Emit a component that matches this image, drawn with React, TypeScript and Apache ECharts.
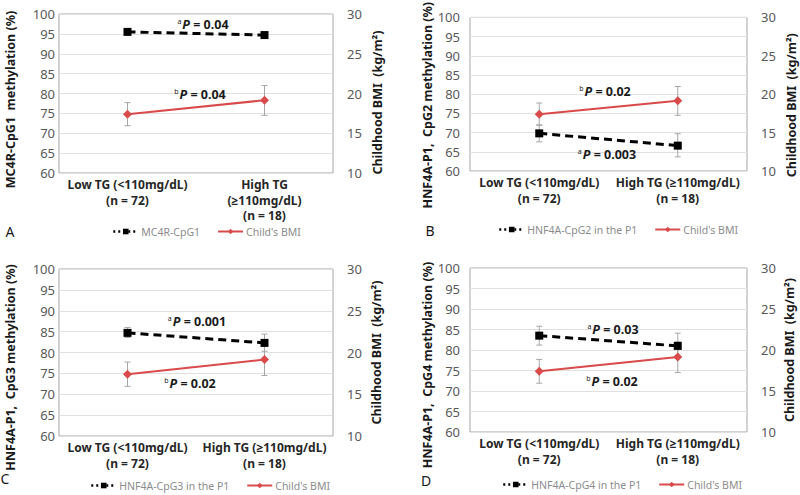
import React, { useEffect, useRef } from "react";
import * as echarts from "echarts";

const catsA = ["Low TG (<110mg/dL)\n(n = 72)", "High TG\n(≥110mg/dL)\n(n = 18)"];
const catsBCD = ["Low TG (<110mg/dL)\n(n = 72)", "High TG (≥110mg/dL)\n(n = 18)"];

const methNames = ["MC4R-CpG1", "HNF4A-CpG2 in the P1", "HNF4A-CpG3 in the P1", "HNF4A-CpG4 in the P1"];
const leftAxisNames = [
  "MC4R-CpG1  methylation (%)",
  "HNF4A-P1,  CpG2 methylation (%)",
  "HNF4A-P1,  CpG3 methylation (%)",
  "HNF4A-P1,  CpG4 methylation (%)",
];
const rightAxisName = "Childhood BMI  (kg/m²)";
const bmiName = "Child's BMI";
const panelLetters = ["A", "B", "C", "D"];

// methylation means, lower and upper error limits
const methMeanA = [95.5, 94.7];
const methLowA = [95.1, 94.3];
const methHighA = [95.9, 95.1];
const methMeanB = [69.8, 66.6];
const methLowB = [67.6, 63.7];
const methHighB = [72.0, 69.7];
const methMeanC = [84.7, 82.3];
const methLowC = [83.6, 80.3];
const methHighC = [86.0, 84.4];
const methMeanD = [83.5, 81.0];
const methLowD = [81.2, 78.2];
const methHighD = [85.8, 84.1];

// child's BMI means and error limits
const bmiMean = [17.4, 19.15];
const bmiLow = [15.95, 17.25];
const bmiHigh = [18.85, 21.0];

// P value annotations
const pMeth = ["0.04", "0.003", "0.001", "0.03"];
const pBmi = ["0.04", "0.02", "0.02", "0.02"];

const leftTicks = { min: 60, max: 100, interval: 5 };
const rightTicks = { min: 10, max: 30, interval: 5 };

export default function App() {
  const ref = useRef<HTMLDivElement>(null);
  useEffect(() => {
    if (!ref.current) return;
    const chart = echarts.init(ref.current, undefined, { renderer: "svg" });
    const font = "'Noto Sans', 'Open Sans', sans-serif";
    const red = "#d94a4a";
    const grids = [
      { left: 59, top: 14, width: 274, height: 159 },
      { left: 470, top: 14, width: 277, height: 157 },
      { left: 59, top: 269, width: 274, height: 167 },
      { left: 470, top: 268, width: 277, height: 164 },
    ];
    const methMeans = [methMeanA, methMeanB, methMeanC, methMeanD];
    const methLows = [methLowA, methLowB, methLowC, methLowD];
    const methHighs = [methHighA, methHighB, methHighC, methHighD];
    const leftLabelMargin = [4, 10, 4, 10];
    const leftNameGap = [42, 32, 42, 34];
    const leftNamePad = [12, 22, 30, 30];
    const rightNameGap = [38, 38, 37, 36];
    const rightNamePad = [18, 22, 0, 0];

    const xAxis: any[] = [];
    const yAxis: any[] = [];
    const series: any[] = [];
    const legend: any[] = [];
    const graphic: any[] = [];

    const errRender = (params: any, api: any) => {
      const x = api.value(0);
      const lo = api.coord([x, api.value(1)]);
      const hi = api.coord([x, api.value(2)]);
      const w = 3;
      const st = { stroke: "#a6a6a6", lineWidth: 1 };
      return {
        type: "group",
        children: [
          { type: "line", shape: { x1: lo[0], y1: lo[1], x2: hi[0], y2: hi[1] }, style: st },
          { type: "line", shape: { x1: lo[0] - w, y1: lo[1], x2: lo[0] + w, y2: lo[1] }, style: st },
          { type: "line", shape: { x1: hi[0] - w, y1: hi[1], x2: hi[0] + w, y2: hi[1] }, style: st },
        ],
      };
    };

    grids.forEach((g, i) => {
      const cats = i === 0 ? catsA : catsBCD;
      xAxis.push({
        type: "category",
        gridIndex: i,
        data: cats,
        boundaryGap: true,
        axisLine: { show: false },
        axisTick: { show: false },
        axisLabel: {
          interval: 0,
          color: "#262626",
          fontWeight: "bold",
          fontSize: 12,
          lineHeight: 15.5,
          fontFamily: font,
          margin: 4,
        },
        splitLine: { show: false },
      });
      yAxis.push({
        type: "value",
        gridIndex: i,
        position: "left",
        ...leftTicks,
        name: leftAxisNames[i],
        nameLocation: "middle",
        nameGap: leftNameGap[i],
        nameTextStyle: {
          color: "#1a1a1a",
          fontWeight: "bold",
          fontSize: 12.5,
          fontFamily: font,
          padding: [0, leftNamePad[i], 0, 0],
        },
        axisLine: { show: false },
        axisTick: { show: false },
        axisLabel: { color: "#595959", fontSize: 13, fontFamily: font, margin: leftLabelMargin[i] },
        splitLine: { show: true, lineStyle: { color: "#e0e0e0", width: 1 } },
      });
      yAxis.push({
        type: "value",
        gridIndex: i,
        position: "right",
        ...rightTicks,
        name: rightAxisName,
        nameLocation: "middle",
        nameGap: rightNameGap[i],
        nameTextStyle: {
          color: "#1a1a1a",
          fontWeight: "bold",
          fontSize: 12.5,
          fontFamily: font,
          padding: [0, rightNamePad[i], 0, 0],
        },
        axisLine: { show: false },
        axisTick: { show: false },
        axisLabel: { color: "#595959", fontSize: 13, fontFamily: font, margin: 14 },
        splitLine: { show: false },
      });

      series.push({
        type: "custom",
        name: methNames[i] + " error",
        xAxisIndex: i,
        yAxisIndex: 2 * i,
        renderItem: errRender,
        encode: { x: 0, y: [1, 2] },
        data: [0, 1].map((k) => [k, methLows[i][k], methHighs[i][k]]),
        z: 1,
        silent: true,
      });
      series.push({
        type: "custom",
        name: bmiName + " error " + i,
        xAxisIndex: i,
        yAxisIndex: 2 * i + 1,
        renderItem: errRender,
        encode: { x: 0, y: [1, 2] },
        data: [0, 1].map((k) => [k, bmiLow[k], bmiHigh[k]]),
        z: 1,
        silent: true,
      });
      series.push({
        type: "line",
        name: methNames[i],
        xAxisIndex: i,
        yAxisIndex: 2 * i,
        data: methMeans[i],
        symbol: "rect",
        symbolSize: 8,
        lineStyle: { color: "#000", width: 3, type: [8, 5] },
        itemStyle: { color: "#000" },
        z: 3,
      });
      series.push({
        type: "line",
        name: bmiName,
        xAxisIndex: i,
        yAxisIndex: 2 * i + 1,
        data: bmiMean,
        symbol: "diamond",
        symbolSize: 9,
        lineStyle: { color: red, width: 2 },
        itemStyle: { color: red },
        z: 3,
      });
    });

    const legendPos = [
      { left: 112, top: 226 },
      { left: 498, top: 224 },
      { left: 90, top: 480 },
      { left: 502, top: 479 },
    ];
    legendPos.forEach((p, i) => {
      legend.push({
        data: [
          { name: methNames[i], lineStyle: { type: [2, 3], width: 2.5 }, itemStyle: { color: "#000" } },
          { name: bmiName, itemStyle: { color: red } },
        ],
        left: p.left,
        top: p.top,
        padding: 0,
        itemWidth: 25,
        itemHeight: 7,
        itemGap: 17,
        selectedMode: false,
        textStyle: { color: "#8c8c8c", fontSize: 10.5, fontFamily: font, padding: [0, 0, 0, -2] },
      });
    });

    const letterPos = [
      [10, 231],
      [430, 230],
      [5, 478],
      [426, 480],
    ];
    letterPos.forEach((p, i) => {
      graphic.push({
        type: "text",
        x: p[0],
        y: p[1],
        style: {
          text: panelLetters[i],
          fontSize: 14,
          fontFamily: font,
          fill: "#1a1a1a",
          align: "center",
          verticalAlign: "middle",
        },
      });
    });

    const rich = {
      s: { fontSize: 7, fontFamily: font, fill: "#1a1a1a", verticalAlign: "top", padding: [0, 1, 6, 0] },
      p: { fontSize: 12.5, fontFamily: font, fontWeight: "bold", fontStyle: "italic", fill: "#1a1a1a" },
      t: { fontSize: 12.5, fontFamily: font, fontWeight: "bold", fill: "#1a1a1a" },
    };
    const annMeth = [
      [203, 24],
      [607, 154],
      [197, 321],
      [613, 329],
    ];
    const annBmi = [
      [200, 94],
      [605, 91],
      [190, 383],
      [612, 381],
    ];
    [0, 1, 2, 3].forEach((i) => {
      graphic.push({
        type: "text",
        x: annMeth[i][0],
        y: annMeth[i][1],
        z: 10,
        style: {
          text: `{s|a}{p|P}{t| = ${pMeth[i]}}`,
          rich,
          align: "center",
          verticalAlign: "middle",
        },
      });
      graphic.push({
        type: "text",
        x: annBmi[i][0],
        y: annBmi[i][1],
        z: 10,
        style: {
          text: `{s|b}{p|P}{t| = ${pBmi[i]}}`,
          rich,
          align: "center",
          verticalAlign: "middle",
        },
      });
    });

    chart.setOption({
      animation: false,
      backgroundColor: "#fff",
      grid: grids.map((g) => ({ ...g, show: true, borderColor: "#a6a6a6", borderWidth: 1, backgroundColor: "transparent" })),
      xAxis,
      yAxis,
      series,
      legend,
      graphic,
    });
    return () => chart.dispose();
  }, []);
  return (
    <div
      ref={ref}
      style={{ position: "fixed", left: 0, top: 0, width: 800, height: 495, background: "#fff" }}
    />
  );
}
